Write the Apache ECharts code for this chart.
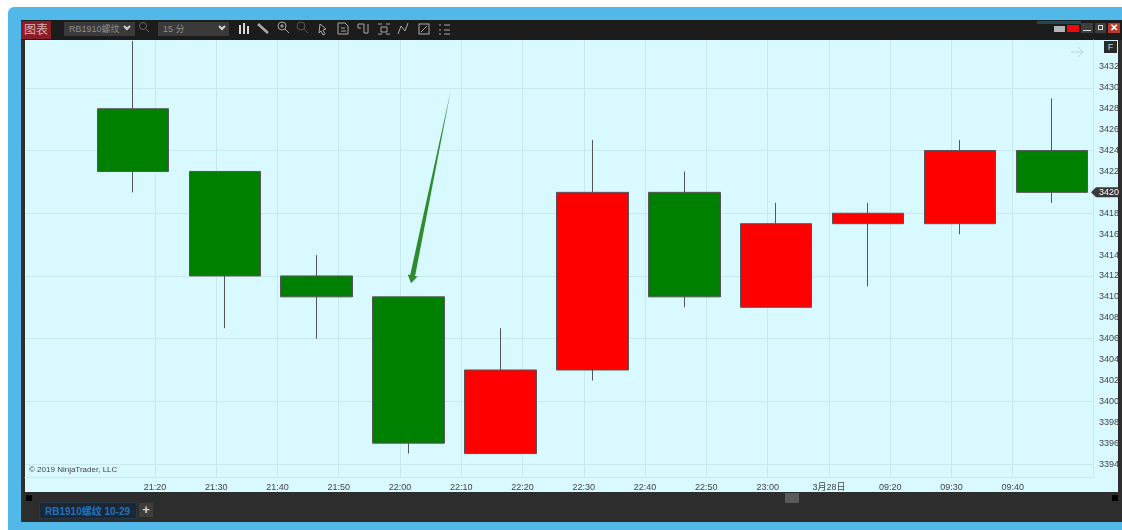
<!DOCTYPE html>
<html>
<head>
<meta charset="utf-8">
<title>RB1910螺纹 15分</title>
<script src="https://cdn.jsdelivr.net/npm/echarts@6/dist/echarts.min.js"></script>
<style>
    html, body { margin: 0; padding: 0; background: #fff; overflow: hidden; }
    body, .txt { font-family: "Liberation Sans", "Noto Sans CJK SC", sans-serif; }
    #page { position: relative; width: 1122px; height: 530px; overflow: hidden; }
    #page div, #page svg { position: absolute; }
    #blue { left: 8px; top: 7px; width: 1114px; height: 523px; background: #52b8e8; border-radius: 6px 0 0 0; }
    #frame { left: 21px; top: 20px; width: 1101px; height: 502px; background: #2d2d2d; }
    #toolbar { left: 21px; top: 20px; width: 1101px; height: 20px; background: #1c1c1c; }
    #panel { left: 25px; top: 40px; width: 1093px; height: 452px; background: #d8f9ff; }
    #chart { left: 0; top: 0; width: 1122px; height: 530px; }
    .chip { background: #8c1c26; color: #d9b0b3; font-size: 12px; line-height: 18px; text-align: center; }
    .select { background: #3a3a3a; color: #8d8d8d; font-size: 9px; line-height: 14px; padding-left: 5px; box-sizing: border-box; }
    .flat { background: #3e3e3e; color: #d0d0d0; text-align: center; }
    #tab { left: 39px; top: 502px; width: 98px; height: 17px; background: #1d2733; color: #1f72bd; font-size: 10px; font-weight: bold; line-height: 17px; padding-left: 5px; box-sizing: border-box; border: 1px solid #27374a; }
</style>
</head>
<body>
<div id="page">
    <div id="blue"></div>
    <div id="frame"></div>
    <div id="toolbar"></div>
    <div class="chip" style="left:21px;top:21px;width:30px;height:18px">图表</div>
    <div class="select" style="left:64px;top:22px;width:71px;height:14px">RB1910螺纹</div>
    <div class="select" style="left:158px;top:22px;width:71px;height:14px">15 分</div>
    <svg style="left:0;top:20px" width="1122" height="20" fill="none" stroke="#a8a8a8" stroke-width="1">
        <path d="M124 6l3 3 3-3M219 6l3 3 3-3" stroke="#d0d0d0" stroke-width="2"/>
        <circle cx="143" cy="6" r="3.5" stroke="#666"/><path d="M146 9l3 3" stroke="#666"/>
        <path d="M240 5v9M244 3v11M248 6v8" stroke="#d8d8d8" stroke-width="2"/>
        <path d="M258 4l10 9" stroke-width="2.6"/>
        <circle cx="282" cy="6" r="4"/><path d="M285 9l4 4M280 6h4M282 4v4"/>
        <circle cx="301" cy="6" r="4" stroke="#555"/><path d="M304 9l4 4" stroke="#555"/>
        <path d="M320 4l6 5-3 1 2 4-2 1-2-4-2 2z"/>
        <path d="M338 3h7l3 3v8h-10zM341 8h4M341 11h5"/>
        <path d="M358 4h6v9M368 4v9h-4M358 4v4h3"/>
        <path d="M378 4h4M386 4h4M378 14h4M386 14h4M381 7h6v5h-6z"/>
        <path d="M398 14l3-8 4 5 3-8"/>
        <rect x="419" y="4" width="10" height="10"/><path d="M421 12l6-6"/>
        <path d="M439 5h2M439 10h2M439 14h2M444 5h6M444 10h6M444 14h6"/>
    </svg>
    <div style="left:1037px;top:21px;width:44px;height:3px;background:#1f4a52"></div>
    <div style="left:1054px;top:26px;width:11px;height:6px;background:#b4b4b4"></div>
    <div style="left:1067px;top:25px;width:12px;height:7px;background:#ee0a0a"></div>
    <div class="flat" style="left:1081px;top:23px;width:12px;height:10px"></div>
    <div style="left:1083px;top:30px;width:8px;height:1px;background:#ddd"></div>
    <div class="flat" style="left:1095px;top:23px;width:11px;height:10px"></div>
    <div style="left:1098px;top:25px;width:5px;height:5px;border:1px solid #ddd;box-sizing:border-box"></div>
    <div style="left:1108px;top:23px;width:12px;height:10px;background:#b5392f;color:#fff;font-size:10px;line-height:10px;text-align:center;font-weight:bold">✕</div>
    <div id="panel"></div>
    <div style="left:1104px;top:41px;width:13px;height:12px;background:#2a2a2a;color:#ccc;font-size:9px;line-height:12px;text-align:center">F</div>
    <svg style="left:1070px;top:46px" width="16" height="12" fill="none" stroke="#c3d3d6" stroke-width="1"><path d="M1 6h12M8 1l5 5-5 5"/></svg>
    <div style="left:26px;top:495px;width:6px;height:6px;background:#000"></div>
    <div style="left:1112px;top:495px;width:6px;height:6px;background:#000"></div>
    <div style="left:785px;top:493px;width:14px;height:10px;background:#5a5a5a"></div>
    <div id="tab">RB1910螺纹 10-29</div>
    <div class="flat" style="left:139px;top:503px;width:14px;height:14px;font-size:13px;line-height:14px;font-weight:bold">+</div>
    <div id="chart"></div>
</div>
<script>
// 蜡烛位置：相对 21:20 的分钟数
const candleX = [-3.6, 11.4, 26.4, 41.4, 56.4, 71.4, 86.4, 101.4, 116.4, 131.4, 146.4];
const opens = [3428, 3422, 3412, 3410, 3395, 3403, 3420, 3409, 3417, 3417, 3424];
const closes = [3422, 3412, 3410, 3396, 3403, 3420, 3410, 3417, 3418, 3424, 3420];
const lows = [3420, 3407, 3406, 3395, 3395, 3402, 3409, 3409, 3411, 3416, 3419];
// 第一根上影线超出图表顶部，只取可见部分
const highs = [3434.5, 3422, 3414, 3410, 3407, 3425, 3422, 3419, 3419, 3425, 3429];

// 时间轴刻度
const timeTicks = [0, 10, 20, 30, 40, 50, 60, 70, 80, 90, 100, 110, 120, 130, 140];
const timeLabels = ['21:20', '21:30', '21:40', '21:50', '22:00', '22:10', '22:20', '22:30', '22:40', '22:50', '23:00', '3月28日', '09:20', '09:30', '09:40'];

// 价格轴刻度
const priceLabels = [3394, 3396, 3398, 3400, 3402, 3404, 3406, 3408, 3410, 3412, 3414, 3416, 3418, 3422, 3424, 3426, 3428, 3430, 3432];
const priceGrid = [3394, 3400, 3406, 3412, 3418, 3424, 3430];
const lastPrice = 3420;

// 手绘箭头：[分钟, 价格]
const arrowTail = [48.3, 3429.8];
const arrowTip = [41.8, 3411.3];

const chart = echarts.init(document.getElementById('chart'));
const fontFamily = '"Liberation Sans", "Noto Sans CJK SC", sans-serif';

chart.setOption({
    backgroundColor: 'transparent',
    animation: false,
    title: {
        text: '© 2019 NinjaTrader, LLC',
        left: 29,
        top: 466,
        padding: 0,
        textStyle: { fontSize: 8, fontWeight: 'normal', color: '#444', fontFamily: fontFamily }
    },
    grid: { left: 25, right: 29, top: 40, bottom: 53, outerBoundsMode: 'none' },
    xAxis: {
        type: 'value',
        min: -21.2,
        max: 153.1,
        axisLine: { onZero: false, lineStyle: { color: '#c9e8ec' } },
        axisTick: { show: false, customValues: timeTicks },
        axisLabel: {
            customValues: timeTicks,
            margin: 6,
            fontSize: 9,
            color: '#444',
            fontFamily: fontFamily,
            formatter: function (value) {
                return timeLabels[timeTicks.indexOf(value)];
            }
        },
        splitLine: { show: true, lineStyle: { color: '#c9e8ec', width: 1 } }
    },
    yAxis: {
        type: 'value',
        position: 'right',
        min: 3392.76,
        max: 3434.58,
        axisLine: { show: true, onZero: false, lineStyle: { color: '#c9e8ec' } },
        axisTick: { show: false, customValues: priceGrid },
        axisLabel: {
            customValues: priceLabels,
            margin: 6,
            fontSize: 9,
            color: '#444',
            fontFamily: fontFamily,
            formatter: function (value) {
                return String(value);
            }
        },
        splitLine: { show: true, lineStyle: { color: '#c9e8ec', width: 1 } }
    },
    series: [
        {
            name: 'RB1910',
            type: 'candlestick',
            barWidth: 72,
            encode: { x: 0, y: [1, 2, 3, 4] },
            itemStyle: {
                color: '#ff0000',
                color0: '#008000',
                borderColor: '#555',
                borderColor0: '#555',
                borderWidth: 1
            },
            data: candleX.map((x, i) => [x, opens[i], closes[i], lows[i], highs[i]])
        },
        {
            // 绿色箭头，尾部细、头部粗
            name: 'arrow',
            type: 'custom',
            silent: true,
            data: [[arrowTail[0], arrowTail[1], arrowTip[0], arrowTip[1]]],
            encode: { x: [0, 2], y: [1, 3] },
            renderItem: function (params, api) {
                const tail = api.coord([api.value(0), api.value(1)]);
                const tip = api.coord([api.value(2), api.value(3)]);
                const dx = tip[0] - tail[0];
                const dy = tip[1] - tail[1];
                const len = Math.sqrt(dx * dx + dy * dy);
                const ux = dx / len, uy = dy / len;
                const nx = -uy, ny = ux;
                const bx = tip[0] - ux * 8, by = tip[1] - uy * 8;
                return {
                    type: 'polygon',
                    shape: {
                        points: [
                            tail,
                            [bx - nx * 2.5, by - ny * 2.5],
                            [bx - nx * 5, by - ny * 5],
                            tip,
                            [bx + nx * 5, by + ny * 5],
                            [bx + nx * 2.5, by + ny * 2.5]
                        ]
                    },
                    style: { fill: '#2e8b2e' }
                };
            }
        },
        {
            // 最新价标签
            name: 'last',
            type: 'custom',
            silent: true,
            data: [[153.1, lastPrice]],
            encode: { x: 0, y: 1 },
            renderItem: function (params, api) {
                const p = api.coord([api.value(0), api.value(1)]);
                const x = p[0], y = p[1];
                return {
                    type: 'group',
                    children: [
                        {
                            type: 'polygon',
                            shape: { points: [[x - 2, y], [x + 3, y - 5], [x + 25, y - 5], [x + 25, y + 5], [x + 3, y + 5]] },
                            style: { fill: '#3a3a3a' }
                        },
                        {
                            type: 'text',
                            style: {
                                x: x + 6,
                                y: y,
                                text: String(api.value(1)),
                                fill: '#fff',
                                fontSize: 9,
                                fontFamily: fontFamily,
                                verticalAlign: 'middle'
                            }
                        }
                    ]
                };
            }
        }
    ]
});
</script>
</body>
</html>
